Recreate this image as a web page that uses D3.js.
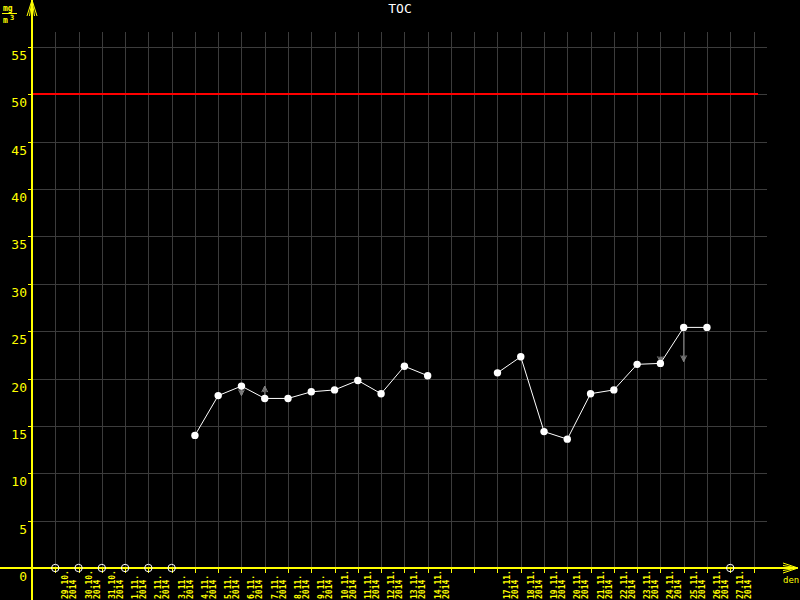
<!DOCTYPE html>
<html>
<head>
<meta charset="utf-8">
<script src="https://cdn.jsdelivr.net/npm/d3@7"></script>
<style>
  body { margin: 0; background: #000; }
  text { font-family: "DejaVu Sans Mono", monospace; }
</style>
</head>
<body>
<svg id="chart" width="800" height="600"></svg>
<script>
// chart data
const title = "TOC";
const dates = [
  "29.10.2014", "30.10.2014", "31.10.2014", "01.11.2014", "02.11.2014", "03.11.2014",
  "04.11.2014", "05.11.2014", "06.11.2014", "07.11.2014", "08.11.2014", "09.11.2014",
  "10.11.2014", "11.11.2014", "12.11.2014", "13.11.2014", "14.11.2014", "15.11.2014",
  "16.11.2014", "17.11.2014", "18.11.2014", "19.11.2014", "20.11.2014", "21.11.2014",
  "22.11.2014", "23.11.2014", "24.11.2014", "25.11.2014", "26.11.2014", "27.11.2014"
];
const values = [
  null, null, null, null, null, null,
  14.0, 18.2, 19.2, 17.9, 17.9, 18.6,
  18.8, 19.8, 18.4, 21.3, 20.3, null,
  null, 20.6, 22.3, 14.4, 13.6, 18.4,
  18.8, 21.5, 21.6, 25.4, 25.4, null
];
// days with no sample at all (no label, no marker)
const missingDays = ["15.11.2014", "16.11.2014"];
// grey arrows drawn at some points
const arrowDates = ["06.11.2014", "07.11.2014", "24.11.2014", "25.11.2014"];
const arrowFrom = [19.2, 17.9, 22.3, 25.4];
const arrowTo = [18.2, 19.2, 21.7, 21.8];
const yTicks = [0, 5, 10, 15, 20, 25, 30, 35, 40, 45, 50, 55];
const limit = 50;
const xStart = "28.10.2014";
const xEnd = "28.11.2014";

const parse = d3.utcParse("%d.%m.%Y");
const fmtDay = d3.utcFormat("%-d.%m.");
const fmtYear = d3.utcFormat("%Y");

const yellow = "#ffff00";
const gridColor = "#3c3c3c";

const svg = d3.select("#chart");
svg.append("rect").attr("width", 800).attr("height", 600).attr("fill", "#000");

const x = d3.scaleUtc()
  .domain([parse(xStart), parse(xEnd)])
  .range([32, 753.5]);
const y = d3.scaleLinear()
  .domain([0, 55])
  .range([568, 47]);

const points = dates.map(function (d, i)
{
  return { date: parse(d), value: values[i], key: d };
});

// pixel snapping for the thin straight lines
function px(v)
{
  return Math.round(v) + 0.5;
}

// grid
const days = x.ticks(d3.utcDay.every(1)).filter(function (d) { return x(d) > 33; });
svg.append("g").selectAll("line").data(days).join("line")
  .attr("x1", function (d) { return px(x(d)); })
  .attr("x2", function (d) { return px(x(d)); })
  .attr("y1", 32)
  .attr("y2", 568)
  .style("stroke", gridColor);
svg.append("g").selectAll("line").data(yTicks.filter(function (v) { return v > 0; })).join("line")
  .attr("x1", 32)
  .attr("x2", 767)
  .attr("y1", function (v) { return px(y(v)); })
  .attr("y2", function (v) { return px(y(v)); })
  .style("stroke", gridColor);

// limit line
svg.append("line")
  .attr("x1", 32).attr("x2", 758)
  .attr("y1", Math.round(y(limit))).attr("y2", Math.round(y(limit)))
  .style("stroke", "#ff0000")
  .style("stroke-width", 2);

// axes
svg.append("line")
  .attr("x1", 32).attr("x2", 32).attr("y1", 0).attr("y2", 600)
  .style("stroke", yellow).style("stroke-width", 2);
svg.append("line")
  .attr("x1", 0).attr("x2", 797).attr("y1", y(0)).attr("y2", y(0))
  .style("stroke", yellow).style("stroke-width", 2);

// arrow heads made of a few lines, like the original
function arrowHead(g, tx, ty, dirX, dirY, len, spread, color, width)
{
  [-spread, -spread / 2, spread / 2, spread].forEach(function (s)
  {
    g.append("line")
      .attr("x1", tx).attr("y1", ty)
      .attr("x2", tx - dirX * len + dirY * s)
      .attr("y2", ty - dirY * len + dirX * s)
      .style("stroke", color)
      .style("stroke-width", width);
  });
}
arrowHead(svg, 32, 0, 0, -1, 16, 5, yellow, 1);
arrowHead(svg, 798, y(0), 1, 0, 15, 5, yellow, 1);

// y ticks and labels
svg.append("g").selectAll("line").data(yTicks).join("line")
  .attr("x1", 28).attr("x2", 32)
  .attr("y1", function (v) { return px(y(v)); })
  .attr("y2", function (v) { return px(y(v)); })
  .style("stroke", yellow);
svg.append("g").selectAll("text").data(yTicks).join("text")
  .attr("x", 27)
  .attr("y", function (v) { return y(v) + 13; })
  .attr("text-anchor", "end")
  .attr("fill", yellow)
  .style("font-size", "13px")
  .text(function (v) { return v; });

// x ticks and labels
svg.append("g").selectAll("line").data(days).join("line")
  .attr("x1", function (d) { return px(x(d)); })
  .attr("x2", function (d) { return px(x(d)); })
  .attr("y1", 568)
  .attr("y2", 573)
  .style("stroke", yellow);
const labelled = points.filter(function (p) { return missingDays.indexOf(p.key) < 0; });
const lab = svg.append("g").selectAll("g").data(labelled).join("g")
  .attr("transform", function (p) { return "translate(" + x(p.date) + ",599) rotate(-90)"; });
lab.append("text")
  .attr("y", 13)
  .attr("fill", yellow)
  .style("font-size", "8px")
  .style("font-weight", "bold")
  .text(function (p) { return fmtDay(p.date); });
lab.append("text")
  .attr("y", 21)
  .attr("fill", yellow)
  .style("font-size", "8px")
  .style("font-weight", "bold")
  .text(function (p) { return fmtYear(p.date); });

// axis names and title
svg.append("text")
  .attr("x", 783).attr("y", 583)
  .attr("fill", yellow)
  .style("font-size", "9px")
  .text("den");
svg.append("text")
  .attr("x", 3).attr("y", 11)
  .attr("fill", yellow)
  .style("font-size", "8px")
  .style("font-weight", "bold")
  .text("mg");
svg.append("line")
  .attr("x1", 2).attr("x2", 17).attr("y1", 13.5).attr("y2", 13.5)
  .style("stroke", yellow);
svg.append("text")
  .attr("x", 3).attr("y", 23)
  .attr("fill", yellow)
  .style("font-size", "8px")
  .style("font-weight", "bold")
  .text("m");
svg.append("text")
  .attr("x", 10).attr("y", 20)
  .attr("fill", yellow)
  .style("font-size", "7px")
  .style("font-weight", "bold")
  .text("3");
svg.append("text")
  .attr("x", 400).attr("y", 13)
  .attr("text-anchor", "middle")
  .attr("fill", "#fff")
  .style("font-size", "13px")
  .text(title);

// grey arrows
const ga = svg.append("g");
arrowDates.forEach(function (d, i)
{
  let ax = x(parse(d));
  let y1 = y(arrowFrom[i]);
  let y2 = y(arrowTo[i]);
  ga.append("line")
    .attr("x1", ax).attr("x2", ax).attr("y1", y1).attr("y2", y2)
    .style("stroke", "#808080");
  arrowHead(ga, ax, y2, 0, y2 > y1 ? 1 : -1, 6, 3, "#808080", 1);
});

// data line, broken where there is no value
let line = d3.line()
  .defined(function (p) { return p.value != null; })
  .x(function (p) { return x(p.date); })
  .y(function (p) { return y(p.value); });
svg.append("path")
  .attr("d", line(points))
  .style("fill", "none")
  .style("stroke", "#fff")
  .style("stroke-width", 1);

svg.append("g").selectAll("circle")
  .data(points.filter(function (p) { return p.value != null; })).join("circle")
  .attr("cx", function (p) { return x(p.date); })
  .attr("cy", function (p) { return y(p.value); })
  .attr("r", 3.7)
  .attr("fill", "#fff");

// hollow markers on the axis for days without a result
svg.append("g").selectAll("circle")
  .data(labelled.filter(function (p) { return p.value == null; })).join("circle")
  .attr("cx", function (p) { return x(p.date); })
  .attr("cy", y(0))
  .attr("r", 3.7)
  .attr("fill", "none")
  .attr("stroke", "#fff");
</script>
</body>
</html>
